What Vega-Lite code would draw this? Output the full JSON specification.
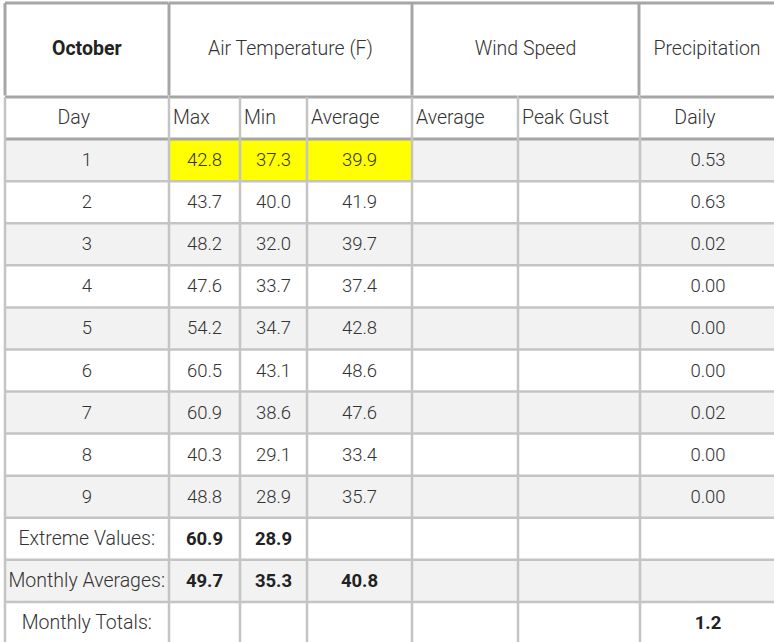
{
  "$schema": "https://vega.github.io/schema/vega-lite/v6.json",
  "padding": {"left": 3, "top": 1, "right": 0, "bottom": 0},
  "background": "#ffffff",
  "datasets": {
    "october": [
      {"Day": "Day"},
      {"Day": "1", "Max": 42.8, "Min": 37.3, "Average": 39.9, "Daily": 0.53},
      {"Day": "2", "Max": 43.7, "Min": 40.0, "Average": 41.9, "Daily": 0.63},
      {"Day": "3", "Max": 48.2, "Min": 32.0, "Average": 39.7, "Daily": 0.02},
      {"Day": "4", "Max": 47.6, "Min": 33.7, "Average": 37.4, "Daily": 0.00},
      {"Day": "5", "Max": 54.2, "Min": 34.7, "Average": 42.8, "Daily": 0.00},
      {"Day": "6", "Max": 60.5, "Min": 43.1, "Average": 48.6, "Daily": 0.00},
      {"Day": "7", "Max": 60.9, "Min": 38.6, "Average": 47.6, "Daily": 0.02},
      {"Day": "8", "Max": 40.3, "Min": 29.1, "Average": 33.4, "Daily": 0.00},
      {"Day": "9", "Max": 48.8, "Min": 28.9, "Average": 35.7, "Daily": 0.00},
      {"Day": "Extreme Values:", "Max": 60.9, "Min": 28.9},
      {"Day": "Monthly Averages:", "Max": 49.7, "Min": 35.3, "Average": 40.8},
      {"Day": "Monthly Totals:", "Daily": 1.2}
    ]
  },
  "vconcat": [
    {
      "bounds": "flush",
      "spacing": 0,
      "hconcat": [
        {
          "width": 163.5, "height": 92.5,
          "data": {"values": [{"label": "October"}]},
          "layer": [
            {"mark": {"type": "text", "fontWeight": "bold", "color": "#222222"}, "encoding": {"text": {"field": "label"}}},
            {"mark": {"type": "rule", "color": "#a6a6a6", "strokeWidth": 3}, "encoding": {"y": {"value": 0}}},
            {"mark": {"type": "rule", "color": "#a6a6a6", "strokeWidth": 3}, "encoding": {"x": {"value": 0}}}
          ]
        },
        {
          "width": 243, "height": 92.5,
          "data": {"values": [{"label": "Air Temperature (F)"}]},
          "layer": [
            {"mark": {"type": "text"}, "encoding": {"text": {"field": "label"}}},
            {"mark": {"type": "rule", "color": "#a6a6a6", "strokeWidth": 3}, "encoding": {"y": {"value": 0}}},
            {"mark": {"type": "rule", "color": "#a6a6a6", "strokeWidth": 3}, "encoding": {"x": {"value": 0}}}
          ]
        },
        {
          "width": 227, "height": 92.5,
          "data": {"values": [{"label": "Wind Speed"}]},
          "layer": [
            {"mark": {"type": "text"}, "encoding": {"text": {"field": "label"}}},
            {"mark": {"type": "rule", "color": "#a6a6a6", "strokeWidth": 3}, "encoding": {"y": {"value": 0}}},
            {"mark": {"type": "rule", "color": "#a6a6a6", "strokeWidth": 3}, "encoding": {"x": {"value": 0}}}
          ]
        },
        {
          "width": 136, "height": 92.5,
          "data": {"values": [{"label": "Precipitation"}]},
          "layer": [
            {"mark": {"type": "text"}, "encoding": {"text": {"field": "label"}}},
            {"mark": {"type": "rule", "color": "#a6a6a6", "strokeWidth": 3}, "encoding": {"y": {"value": 0}}},
            {"mark": {"type": "rule", "color": "#a6a6a6", "strokeWidth": 3}, "encoding": {"x": {"value": 0}}}
          ]
        }
      ]
    },
    {
      "bounds": "flush",
      "spacing": 0,
      "hconcat": [
        {
          "width": 163.5, "height": 547,
          "data": {"name": "october"},
          "encoding": {"y": {"field": "Day", "type": "nominal", "axis": null, "sort": null, "scale": {"paddingInner": 0, "paddingOuter": 0}}},
          "layer": [
            {"mark": "rect", "encoding": {"fill": {"condition": {"test": "indexof(['1','3','5','7','9','Monthly Averages:'], datum.Day) >= 0", "value": "#f2f2f2"}, "value": "#ffffff"}}},
            {"transform": [{"filter": "datum.Day === 'Day'"}], "mark": {"type": "text", "dx": -13}, "encoding": {"text": {"value": "Day"}}},
            {"transform": [{"filter": "datum.Day !== 'Day' && indexof(datum.Day, ':') < 0"}], "mark": {"type": "text", "fontSize": 18.5}, "encoding": {"text": {"field": "Day"}}},
            {"transform": [{"filter": "indexof(datum.Day, ':') > 0"}], "mark": {"type": "text"}, "encoding": {"text": {"field": "Day"}}},
            {"mark": "rule", "encoding": {
              "y": {"field": "Day", "type": "nominal", "bandPosition": 0},
              "stroke": {"condition": {"test": "datum.Day === 'Day' || datum.Day === '1'", "value": "#a6a6a6"}, "value": "#c4c4c4"},
              "strokeWidth": {"condition": {"test": "datum.Day === 'Day' || datum.Day === '1'", "value": 3}, "value": 2.5}}},
            {"transform": [{"aggregate": [{"op": "count", "as": "n"}]}], "mark": {"type": "rule", "color": "#c4c4c4", "strokeWidth": 2.5}, "encoding": {"x": {"value": 0}, "y": {"value": 0}, "y2": {"value": "height"}}}
          ]
        },
        {
          "width": 71, "height": 547,
          "data": {"name": "october"},
          "encoding": {"y": {"field": "Day", "type": "nominal", "axis": null, "sort": null, "scale": {"paddingInner": 0, "paddingOuter": 0}}},
          "layer": [
            {"mark": "rect", "encoding": {"fill": {"condition": [{"test": "datum.Day === '1'", "value": "#ffff00"}, {"test": "indexof(['1','3','5','7','9','Monthly Averages:'], datum.Day) >= 0", "value": "#f2f2f2"}], "value": "#ffffff"}}},
            {"transform": [{"filter": "datum.Day === 'Day'"}], "mark": {"type": "text", "align": "left", "dx": 4}, "encoding": {"x": {"value": 0}, "text": {"value": "Max"}}},
            {"transform": [{"filter": "isValid(datum.Max) && indexof(datum.Day, ':') < 0"}], "mark": {"type": "text", "fontSize": 18.5}, "encoding": {"text": {"field": "Max", "format": ".1f"}}},
            {"transform": [{"filter": "isValid(datum.Max) && indexof(datum.Day, ':') > 0"}], "mark": {"type": "text", "fontSize": 18.5, "fontWeight": "bold", "color": "#222222"}, "encoding": {"text": {"field": "Max", "format": ".1f"}}},
            {"mark": "rule", "encoding": {
              "y": {"field": "Day", "type": "nominal", "bandPosition": 0},
              "stroke": {"condition": {"test": "datum.Day === 'Day' || datum.Day === '1'", "value": "#a6a6a6"}, "value": "#c4c4c4"},
              "strokeWidth": {"condition": {"test": "datum.Day === 'Day' || datum.Day === '1'", "value": 3}, "value": 2.5}}},
            {"transform": [{"aggregate": [{"op": "count", "as": "n"}]}], "mark": {"type": "rule", "color": "#c4c4c4", "strokeWidth": 2.5}, "encoding": {"x": {"value": 0}, "y": {"value": 0}, "y2": {"value": "height"}}}
          ]
        },
        {
          "width": 67, "height": 547,
          "data": {"name": "october"},
          "encoding": {"y": {"field": "Day", "type": "nominal", "axis": null, "sort": null, "scale": {"paddingInner": 0, "paddingOuter": 0}}},
          "layer": [
            {"mark": "rect", "encoding": {"fill": {"condition": [{"test": "datum.Day === '1'", "value": "#ffff00"}, {"test": "indexof(['1','3','5','7','9','Monthly Averages:'], datum.Day) >= 0", "value": "#f2f2f2"}], "value": "#ffffff"}}},
            {"transform": [{"filter": "datum.Day === 'Day'"}], "mark": {"type": "text", "align": "left", "dx": 4}, "encoding": {"x": {"value": 0}, "text": {"value": "Min"}}},
            {"transform": [{"filter": "isValid(datum.Min) && indexof(datum.Day, ':') < 0"}], "mark": {"type": "text", "fontSize": 18.5}, "encoding": {"text": {"field": "Min", "format": ".1f"}}},
            {"transform": [{"filter": "isValid(datum.Min) && indexof(datum.Day, ':') > 0"}], "mark": {"type": "text", "fontSize": 18.5, "fontWeight": "bold", "color": "#222222"}, "encoding": {"text": {"field": "Min", "format": ".1f"}}},
            {"mark": "rule", "encoding": {
              "y": {"field": "Day", "type": "nominal", "bandPosition": 0},
              "stroke": {"condition": {"test": "datum.Day === 'Day' || datum.Day === '1'", "value": "#a6a6a6"}, "value": "#c4c4c4"},
              "strokeWidth": {"condition": {"test": "datum.Day === 'Day' || datum.Day === '1'", "value": 3}, "value": 2.5}}},
            {"transform": [{"aggregate": [{"op": "count", "as": "n"}]}], "mark": {"type": "rule", "color": "#c4c4c4", "strokeWidth": 2.5}, "encoding": {"x": {"value": 0}, "y": {"value": 0}, "y2": {"value": "height"}}}
          ]
        },
        {
          "width": 105, "height": 547,
          "data": {"name": "october"},
          "encoding": {"y": {"field": "Day", "type": "nominal", "axis": null, "sort": null, "scale": {"paddingInner": 0, "paddingOuter": 0}}},
          "layer": [
            {"mark": "rect", "encoding": {"fill": {"condition": [{"test": "datum.Day === '1'", "value": "#ffff00"}, {"test": "indexof(['1','3','5','7','9','Monthly Averages:'], datum.Day) >= 0", "value": "#f2f2f2"}], "value": "#ffffff"}}},
            {"transform": [{"filter": "datum.Day === 'Day'"}], "mark": {"type": "text", "align": "left", "dx": 4}, "encoding": {"x": {"value": 0}, "text": {"value": "Average"}}},
            {"transform": [{"filter": "isValid(datum.Average) && indexof(datum.Day, ':') < 0"}], "mark": {"type": "text", "fontSize": 18.5}, "encoding": {"text": {"field": "Average", "format": ".1f"}}},
            {"transform": [{"filter": "isValid(datum.Average) && indexof(datum.Day, ':') > 0"}], "mark": {"type": "text", "fontSize": 18.5, "fontWeight": "bold", "color": "#222222"}, "encoding": {"text": {"field": "Average", "format": ".1f"}}},
            {"mark": "rule", "encoding": {
              "y": {"field": "Day", "type": "nominal", "bandPosition": 0},
              "stroke": {"condition": {"test": "datum.Day === 'Day' || datum.Day === '1'", "value": "#a6a6a6"}, "value": "#c4c4c4"},
              "strokeWidth": {"condition": {"test": "datum.Day === 'Day' || datum.Day === '1'", "value": 3}, "value": 2.5}}},
            {"transform": [{"aggregate": [{"op": "count", "as": "n"}]}], "mark": {"type": "rule", "color": "#c4c4c4", "strokeWidth": 2.5}, "encoding": {"x": {"value": 0}, "y": {"value": 0}, "y2": {"value": "height"}}}
          ]
        },
        {
          "width": 105.5, "height": 547,
          "data": {"name": "october"},
          "encoding": {"y": {"field": "Day", "type": "nominal", "axis": null, "sort": null, "scale": {"paddingInner": 0, "paddingOuter": 0}}},
          "layer": [
            {"mark": "rect", "encoding": {"fill": {"condition": {"test": "indexof(['1','3','5','7','9','Monthly Averages:'], datum.Day) >= 0", "value": "#f2f2f2"}, "value": "#ffffff"}}},
            {"transform": [{"filter": "datum.Day === 'Day'"}], "mark": {"type": "text", "align": "left", "dx": 4}, "encoding": {"x": {"value": 0}, "text": {"value": "Average"}}},
            {"mark": "rule", "encoding": {
              "y": {"field": "Day", "type": "nominal", "bandPosition": 0},
              "stroke": {"condition": {"test": "datum.Day === 'Day' || datum.Day === '1'", "value": "#a6a6a6"}, "value": "#c4c4c4"},
              "strokeWidth": {"condition": {"test": "datum.Day === 'Day' || datum.Day === '1'", "value": 3}, "value": 2.5}}},
            {"transform": [{"aggregate": [{"op": "count", "as": "n"}]}], "mark": {"type": "rule", "color": "#c4c4c4", "strokeWidth": 2.5}, "encoding": {"x": {"value": 0}, "y": {"value": 0}, "y2": {"value": "height"}}}
          ]
        },
        {
          "width": 121.5, "height": 547,
          "data": {"name": "october"},
          "encoding": {"y": {"field": "Day", "type": "nominal", "axis": null, "sort": null, "scale": {"paddingInner": 0, "paddingOuter": 0}}},
          "layer": [
            {"mark": "rect", "encoding": {"fill": {"condition": {"test": "indexof(['1','3','5','7','9','Monthly Averages:'], datum.Day) >= 0", "value": "#f2f2f2"}, "value": "#ffffff"}}},
            {"transform": [{"filter": "datum.Day === 'Day'"}], "mark": {"type": "text", "align": "left", "dx": 4}, "encoding": {"x": {"value": 0}, "text": {"value": "Peak Gust"}}},
            {"mark": "rule", "encoding": {
              "y": {"field": "Day", "type": "nominal", "bandPosition": 0},
              "stroke": {"condition": {"test": "datum.Day === 'Day' || datum.Day === '1'", "value": "#a6a6a6"}, "value": "#c4c4c4"},
              "strokeWidth": {"condition": {"test": "datum.Day === 'Day' || datum.Day === '1'", "value": 3}, "value": 2.5}}},
            {"transform": [{"aggregate": [{"op": "count", "as": "n"}]}], "mark": {"type": "rule", "color": "#c4c4c4", "strokeWidth": 2.5}, "encoding": {"x": {"value": 0}, "y": {"value": 0}, "y2": {"value": "height"}}}
          ]
        },
        {
          "width": 136, "height": 547,
          "data": {"name": "october"},
          "encoding": {"y": {"field": "Day", "type": "nominal", "axis": null, "sort": null, "scale": {"paddingInner": 0, "paddingOuter": 0}}},
          "layer": [
            {"mark": "rect", "encoding": {"fill": {"condition": {"test": "indexof(['1','3','5','7','9','Monthly Averages:'], datum.Day) >= 0", "value": "#f2f2f2"}, "value": "#ffffff"}}},
            {"transform": [{"filter": "datum.Day === 'Day'"}], "mark": {"type": "text", "dx": -13}, "encoding": {"text": {"value": "Daily"}}},
            {"transform": [{"filter": "isValid(datum.Daily) && indexof(datum.Day, ':') < 0"}], "mark": {"type": "text", "fontSize": 18.5}, "encoding": {"text": {"field": "Daily", "format": ".2f"}}},
            {"transform": [{"filter": "isValid(datum.Daily) && indexof(datum.Day, ':') > 0"}], "mark": {"type": "text", "fontSize": 18.5, "fontWeight": "bold", "color": "#222222"}, "encoding": {"text": {"field": "Daily", "format": ".1f"}}},
            {"mark": "rule", "encoding": {
              "y": {"field": "Day", "type": "nominal", "bandPosition": 0},
              "stroke": {"condition": {"test": "datum.Day === 'Day' || datum.Day === '1'", "value": "#a6a6a6"}, "value": "#c4c4c4"},
              "strokeWidth": {"condition": {"test": "datum.Day === 'Day' || datum.Day === '1'", "value": 3}, "value": 2.5}}},
            {"transform": [{"aggregate": [{"op": "count", "as": "n"}]}], "mark": {"type": "rule", "color": "#c4c4c4", "strokeWidth": 2.5}, "encoding": {"x": {"value": 0}, "y": {"value": 0}, "y2": {"value": "height"}}}
          ]
        }
      ]
    }
  ],
  "spacing": -3,
  "config": {
    "view": {"stroke": null},
    "concat": {"spacing": 0},
    "text": {"font": "Roboto", "fontSize": 19.5, "fontWeight": 300, "color": "#333333", "baseline": "middle"}
  }
}
